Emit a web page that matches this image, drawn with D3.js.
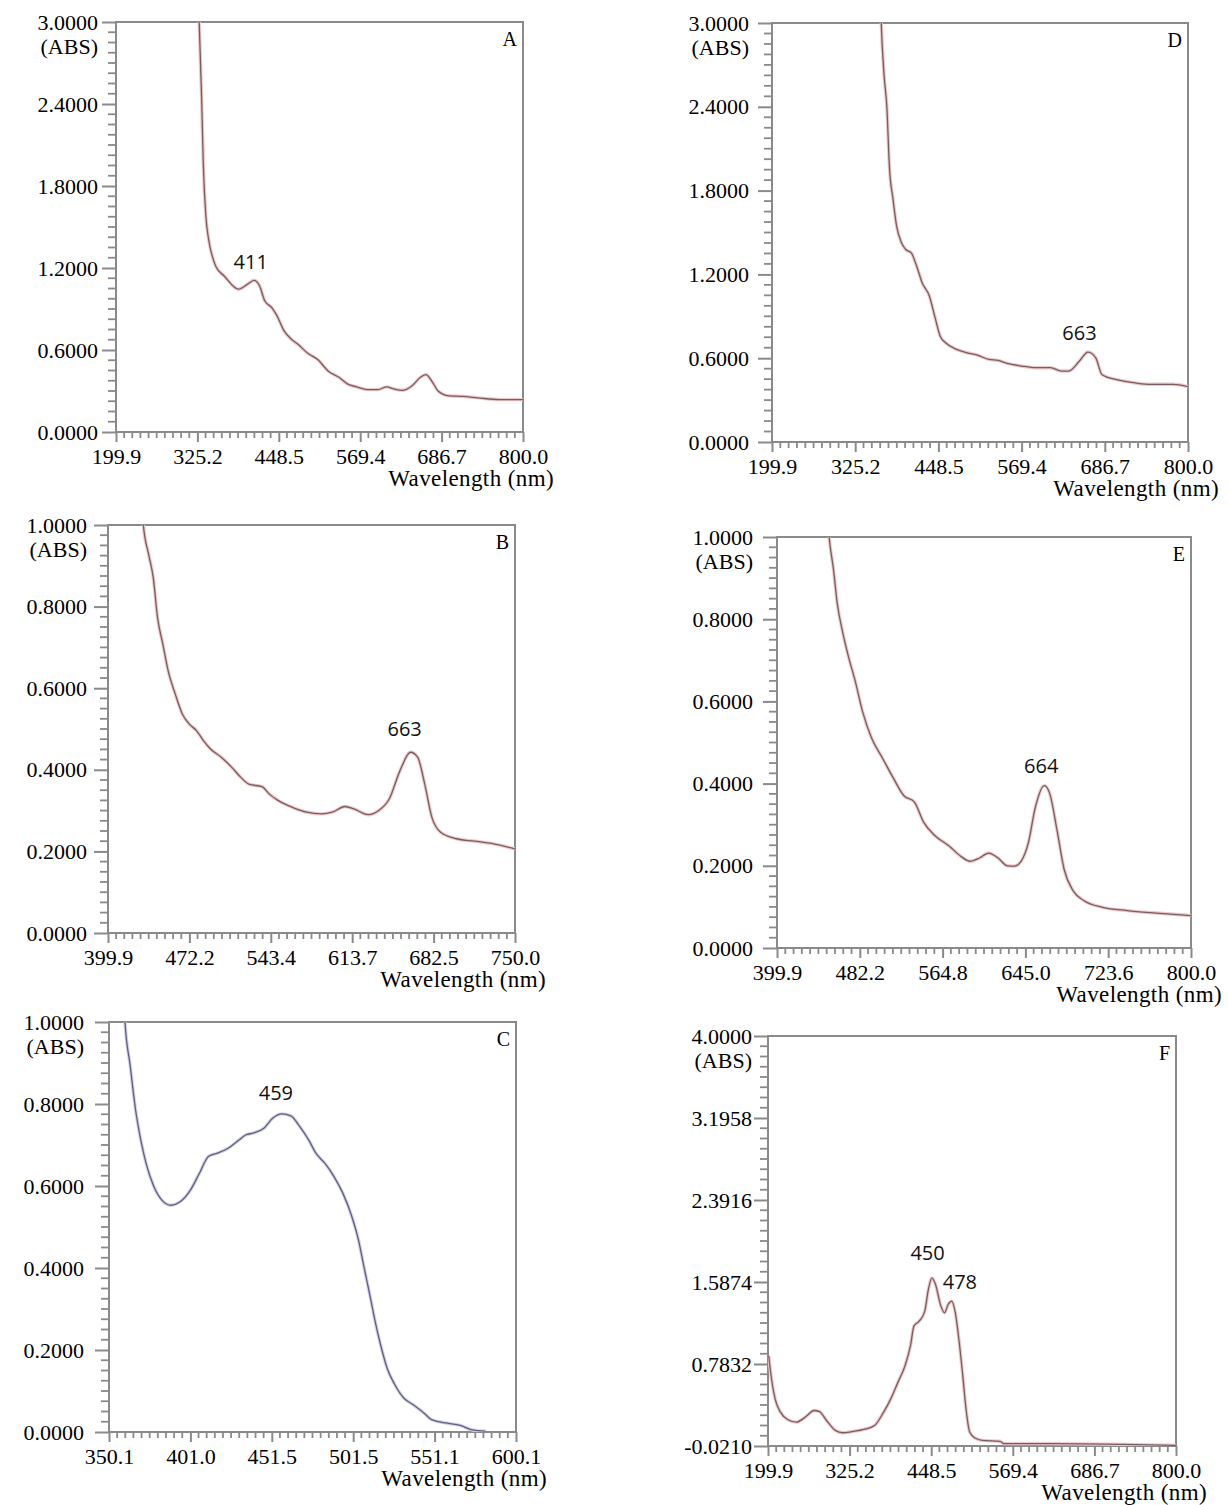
<!DOCTYPE html>
<html>
<head>
<meta charset="utf-8">
<script src="https://cdn.jsdelivr.net/npm/d3@7"></script>
<style>
	body { margin: 0; background: #fff; }
</style>
</head>
<body>
<div id="chart"></div>
<script>

// ---- data ----

// A
const xTicksA = [199.9, 325.2, 448.5, 569.4, 686.7, 800.0];
const yTicksA = [0, 0.6, 1.2, 1.8, 2.4, 3.0];
const wlA  = [325.5, 327.9, 331.6, 334.2, 338.0, 342.2, 347.5, 352.8, 366.1, 387.4, 400.7, 411.0, 419.3, 427.2, 437.9, 445.8, 456.4, 466.9, 477.4, 490.5, 506.3, 522.1, 537.9, 551.0, 564.2, 579.6, 594.9, 607.6, 617.9, 630.6, 643.4, 656.2, 664.0, 674.1, 681.6, 696.8, 716.9, 737.1, 767.3, 800.0];
const absA = [3.40, 3.00, 2.44, 1.95, 1.58, 1.41, 1.29, 1.215, 1.14, 1.045, 1.08, 1.11, 1.07, 0.96, 0.91, 0.85, 0.74, 0.68, 0.64, 0.58, 0.53, 0.445, 0.40, 0.35, 0.33, 0.31, 0.31, 0.33, 0.315, 0.305, 0.335, 0.40, 0.42, 0.36, 0.30, 0.265, 0.26, 0.25, 0.237, 0.237];
const peaksA = [{label: '411', wl: 406, abs: 1.19}];

// B
const xTicksB = [399.9, 472.2, 543.4, 613.7, 682.5, 750.0];
const yTicksB = [0, 0.2, 0.4, 0.6, 0.8, 1.0];
const wlB  = [430.0, 431.3, 436.0, 440.1, 443.9, 448.6, 453.3, 459.6, 465.9, 472.2, 478.4, 484.6, 490.7, 500.0, 509.3, 517.0, 524.8, 535.7, 541.9, 549.6, 562.1, 574.6, 587.1, 596.5, 607.5, 615.2, 627.2, 636.1, 645.1, 654.1, 663.0, 669.0, 675.0, 681.0, 688.3, 701.6, 716.5, 731.4, 750.0];
const absB = [1.05, 1.0, 0.928, 0.871, 0.773, 0.708, 0.643, 0.586, 0.537, 0.512, 0.496, 0.471, 0.451, 0.431, 0.406, 0.382, 0.364, 0.359, 0.341, 0.325, 0.308, 0.296, 0.292, 0.296, 0.31, 0.304, 0.29, 0.30, 0.329, 0.398, 0.443, 0.431, 0.365, 0.284, 0.247, 0.231, 0.225, 0.219, 0.206];
const peaksB = [{label: '663', wl: 658, abs: 0.482}];

// C
const xTicksC = [350.1, 401.0, 451.5, 501.5, 551.1, 600.1];
const yTicksC = [0, 0.2, 0.4, 0.6, 0.8, 1.0];
const wlC  = [359.0, 360.1, 363.4, 366.7, 370.0, 373.3, 377.8, 383.3, 388.8, 394.4, 401.0, 406.6, 412.2, 417.7, 424.4, 431.1, 435.5, 440.0, 446.6, 452.2, 457.7, 463.2, 468.7, 474.2, 478.6, 484.2, 489.7, 495.2, 500.7, 504.8, 508.1, 511.5, 514.8, 518.1, 522.4, 526.8, 532.3, 537.9, 544.4, 549.3, 558.0, 566.6, 573.1, 581.8];
const absC = [1.08, 1.0, 0.892, 0.786, 0.712, 0.655, 0.602, 0.565, 0.553, 0.561, 0.59, 0.631, 0.672, 0.68, 0.692, 0.712, 0.725, 0.729, 0.741, 0.766, 0.776, 0.771, 0.745, 0.712, 0.68, 0.655, 0.623, 0.582, 0.525, 0.467, 0.402, 0.337, 0.271, 0.214, 0.153, 0.116, 0.083, 0.067, 0.047, 0.03, 0.022, 0.016, 0.006, 0.002];
const peaksC = [{label: '459', wl: 454, abs: 0.81}];

// D
const xTicksD = [199.9, 325.2, 448.5, 569.4, 686.7, 800.0];
const yTicksD = [0, 0.6, 1.2, 1.8, 2.4, 3.0];
const wlD  = [362.0, 363.8, 368.1, 372.1, 375.9, 381.2, 386.6, 393.8, 400.2, 408.3, 416.3, 424.4, 435.1, 443.1, 451.1, 459.0, 474.8, 490.6, 506.3, 522.1, 535.2, 548.4, 569.4, 589.8, 610.2, 625.5, 635.7, 651.0, 663.0, 673.9, 682.6, 701.3, 720.9, 745.3, 779.5, 800.0];
const absD = [3.30, 3.00, 2.62, 2.40, 1.97, 1.74, 1.545, 1.426, 1.378, 1.354, 1.259, 1.14, 1.045, 0.90, 0.758, 0.711, 0.663, 0.639, 0.62, 0.591, 0.584, 0.563, 0.544, 0.532, 0.532, 0.508, 0.508, 0.58, 0.644, 0.603, 0.484, 0.448, 0.429, 0.413, 0.413, 0.396];
const peaksD = [{label: '663', wl: 651, abs: 0.73}];

// E
const xTicksE = [399.9, 482.2, 564.8, 645.0, 723.6, 800.0];
const yTicksE = [0, 0.2, 0.4, 0.6, 0.8, 1.0];
const wlE  = [450.0, 451.7, 456.1, 459.7, 465.2, 470.6, 477.9, 485.0, 493.9, 504.6, 515.3, 526.0, 536.7, 545.7, 556.5, 571.7, 582.5, 591.5, 600.5, 609.4, 618.5, 627.5, 634.2, 640.8, 647.7, 654.5, 663.0, 668.2, 675.0, 681.8, 690.4, 700.7, 718.4, 741.2, 767.9, 800.0];
const absE = [1.05, 1.0, 0.92, 0.84, 0.768, 0.712, 0.647, 0.575, 0.511, 0.463, 0.415, 0.371, 0.355, 0.307, 0.275, 0.247, 0.223, 0.211, 0.219, 0.231, 0.219, 0.20, 0.199, 0.211, 0.255, 0.343, 0.395, 0.375, 0.287, 0.191, 0.139, 0.115, 0.099, 0.091, 0.085, 0.079];
const peaksE = [{label: '664', wl: 660, abs: 0.425}];

// F
const xTicksF = [199.9, 325.2, 448.5, 569.4, 686.7, 800.0];
const yTicksF = [-0.0210, 0.7832, 1.5874, 2.3916, 3.1958, 4.0000];
const wlF  = [201.0, 205.3, 210.8, 219.0, 229.9, 243.5, 257.1, 270.7, 278.9, 289.8, 303.4, 314.3, 330.6, 346.8, 363.0, 376.6, 387.4, 398.2, 409.0, 417.1, 422.5, 430.6, 438.8, 444.2, 449.6, 454.9, 462.9, 468.3, 473.6, 478.9, 484.2, 489.5, 494.8, 500.1, 505.5, 513.4, 524.1, 550.7, 556.1, 630.2, 725.2, 800.0];
const absF = [0.863, 0.636, 0.441, 0.311, 0.239, 0.213, 0.262, 0.327, 0.317, 0.229, 0.132, 0.109, 0.122, 0.142, 0.181, 0.311, 0.441, 0.603, 0.766, 0.961, 1.156, 1.205, 1.302, 1.513, 1.627, 1.562, 1.351, 1.286, 1.367, 1.40, 1.286, 1.026, 0.70, 0.343, 0.116, 0.057, 0.034, 0.025, 0.002, 0.002, -0.005, -0.015];
const peaksF = [{label: '450', wl: 443, abs: 1.80}, {label: '478', wl: 491, abs: 1.52}];


// ---- layout / styling ----

const W = 1228, H = 1505;
const serif = '"Liberation Serif", "Times New Roman", serif';
const sans = '"Open Sans", "Noto Sans", sans-serif';
const frameColor = '#8a8a8a';
const redLine = {halo: '#ecc9c9', core: '#7c5c60'};
const blueLine = {halo: '#d3d3e6', core: '#5f5f82'};

const panels = [
	{letter: 'A', box: {x0: 116, x1: 523, y0: 22, y1: 432}, pad: 4, xTicks: xTicksA, yTicks: yTicksA, wl: wlA, abs: absA, peaks: peaksA, color: redLine},
	{letter: 'B', box: {x0: 108, x1: 515, y0: 525, y1: 933}, pad: 7, xTicks: xTicksB, yTicks: yTicksB, wl: wlB, abs: absB, peaks: peaksB, color: redLine},
	{letter: 'C', box: {x0: 109, x1: 516, y0: 1022, y1: 1432}, pad: 11, xTicks: xTicksC, yTicks: yTicksC, wl: wlC, abs: absC, peaks: peaksC, color: blueLine},
	{letter: 'D', box: {x0: 772, x1: 1188, y0: 23, y1: 442}, pad: 9, xTicks: xTicksD, yTicks: yTicksD, wl: wlD, abs: absD, peaks: peaksD, color: redLine},
	{letter: 'E', box: {x0: 777, x1: 1191, y0: 537, y1: 948}, pad: 10, xTicks: xTicksE, yTicks: yTicksE, wl: wlE, abs: absE, peaks: peaksE, color: redLine},
	{letter: 'F', box: {x0: 768, x1: 1176, y0: 1036, y1: 1446}, pad: 2, xTicks: xTicksF, yTicks: yTicksF, wl: wlF, abs: absF, peaks: peaksF, color: redLine}
];

const svg = d3.select('#chart').append('svg')
	.attr('width', W)
	.attr('height', H)
	.style('background', '#fff');

function drawPanel(p) {
	const {x0, x1, y0, y1} = p.box;
	const n = p.xTicks.length - 1;

	// the instrument spaces its labelled ticks evenly, so the x scale is piecewise linear
	const x = d3.scaleLinear()
		.domain(p.xTicks)
		.range(p.xTicks.map((d, i) => x0 + (x1 - x0) * i / n));

	const y = d3.scaleLinear()
		.domain(d3.extent(p.yTicks))
		.range([y1, y0]);

	const g = svg.append('g').attr('class', 'panel panel--' + p.letter);

	// minor ticks: 8 per y interval, 10 per x interval
	const yMinor = [];
	p.yTicks.slice(1).forEach((t, i) => {
		const a = p.yTicks[i];
		for (let k = 1; k < 8; k++) yMinor.push(a + (t - a) * k / 8);
	});
	const xMinor = [];
	p.xTicks.slice(1).forEach((t, i) => {
		const a = p.xTicks[i];
		for (let k = 1; k < 10; k++) xMinor.push(a + (t - a) * k / 10);
	});

	g.selectAll('.minor-y')
		.data(yMinor)
		.enter().append('line')
			.attr('class', 'minor-y')
			.attr('x1', x0 - 8)
			.attr('x2', x0 - 1)
			.attr('y1', d => y(d))
			.attr('y2', d => y(d))
			.style('stroke', frameColor)
			.style('stroke-width', 1.8);

	g.selectAll('.minor-x')
		.data(xMinor)
		.enter().append('line')
			.attr('class', 'minor-x')
			.attr('x1', d => x(d))
			.attr('x2', d => x(d))
			.attr('y1', y1 + 1)
			.attr('y2', y1 + 6)
			.style('stroke', frameColor)
			.style('stroke-width', 1.8);

	// major axes
	const yAxis = g.append('g')
		.attr('transform', `translate(${x0},0)`)
		.call(d3.axisLeft(y)
			.tickValues(p.yTicks)
			.tickSize(14)
			.tickPadding(p.pad)
			.tickFormat(d => d.toFixed(4)));

	const xAxis = g.append('g')
		.attr('transform', `translate(0,${y1})`)
		.call(d3.axisBottom(x)
			.tickValues(p.xTicks)
			.tickSize(10)
			.tickPadding(6)
			.tickFormat(d => d.toFixed(1)));

	[yAxis, xAxis].forEach(ax => {
		ax.select('.domain').remove();
		ax.selectAll('line').style('stroke', frameColor).style('stroke-width', 2);
		ax.selectAll('text')
			.style('font-family', serif)
			.style('font-size', '22px')
			.style('fill', '#000');
	});

	// frame
	g.append('rect')
		.attr('x', x0)
		.attr('y', y0)
		.attr('width', x1 - x0)
		.attr('height', y1 - y0)
		.style('fill', 'none')
		.style('stroke', frameColor)
		.style('stroke-width', 2);

	// y axis unit, sits under the top tick label
	g.append('text')
		.attr('x', x0 - 14 - p.pad)
		.attr('y', y0 + 32)
		.attr('text-anchor', 'end')
		.style('font-family', serif)
		.style('font-size', '22px')
		.style('fill', '#000')
		.text('(ABS)');

	g.append('text')
		.attr('x', x1 + 31)
		.attr('y', y1 + 54)
		.attr('text-anchor', 'end')
		.style('font-family', serif)
		.style('font-size', '23px')
		.style('letter-spacing', '0.4px')
		.style('fill', '#000')
		.text('Wavelength (nm)');

	g.append('text')
		.attr('x', x1 - 6)
		.attr('y', y0 + 24)
		.attr('text-anchor', 'end')
		.style('font-family', serif)
		.style('font-size', '20px')
		.style('fill', '#000')
		.text(p.letter);

	// spectrum
	const clipId = 'clip-' + p.letter;
	g.append('clipPath')
		.attr('id', clipId)
		.append('rect')
			.attr('x', x0)
			.attr('y', y0)
			.attr('width', x1 - x0)
			.attr('height', y1 - y0);

	const pts = p.wl.map((w, i) => [w, p.abs[i]]);
	const line = d3.line()
		.x(d => x(d[0]))
		.y(d => y(d[1]))
		.curve(d3.curveMonotoneX);

	const lines = g.append('g').attr('clip-path', `url(#${clipId})`);
	lines.append('path')
		.attr('d', line(pts))
		.style('fill', 'none')
		.style('stroke', p.color.halo)
		.style('stroke-width', 3.4)
		.style('stroke-linejoin', 'round');
	lines.append('path')
		.attr('d', line(pts))
		.style('fill', 'none')
		.style('stroke', p.color.core)
		.style('stroke-width', 1.3)
		.style('stroke-linejoin', 'round');

	// peak labels
	g.selectAll('.peak')
		.data(p.peaks)
		.enter().append('text')
			.attr('class', 'peak')
			.attr('x', d => x(d.wl))
			.attr('y', d => y(d.abs))
			.attr('text-anchor', 'middle')
			.style('font-family', sans)
			.style('font-size', '20px')
			.style('fill', '#111')
			.text(d => d.label);
}

panels.forEach(drawPanel);

</script>
</body>
</html>
